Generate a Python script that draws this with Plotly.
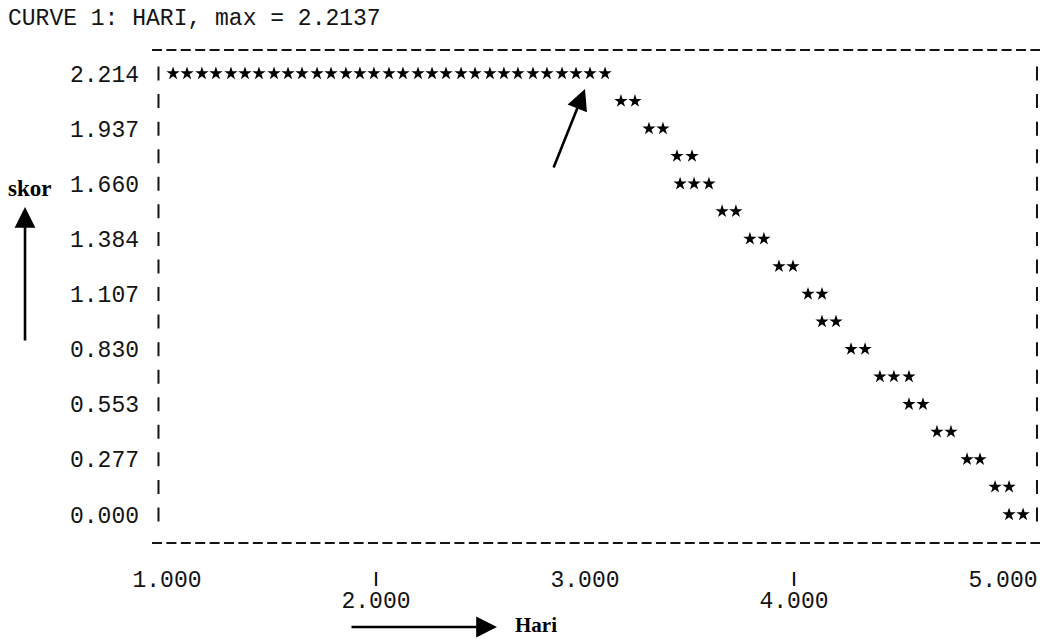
import plotly.graph_objects as go

# ---- data ----
skor_levels = [2.2137, 2.0754, 1.9370, 1.7987, 1.6603, 1.5219, 1.3836, 1.2452,
               1.1068, 0.9685, 0.8301, 0.6918, 0.5534, 0.4151, 0.2767, 0.1384, 0.0]

hari_per_level = [
    [1.029, 1.096, 1.167, 1.234, 1.306, 1.373, 1.440, 1.512, 1.579, 1.646,
     1.718, 1.785, 1.856, 1.923, 1.990, 2.062, 2.129, 2.201, 2.268, 2.335,
     2.407, 2.474, 2.545, 2.612, 2.679, 2.751, 2.818, 2.890, 2.957, 3.024, 3.096],
    [3.172, 3.239],
    [3.306, 3.373],
    [3.440, 3.512],
    [3.455, 3.522, 3.593],
    [3.656, 3.722],
    [3.789, 3.856],
    [3.928, 3.995],
    [4.067, 4.134],
    [4.134, 4.201],
    [4.273, 4.340],
    [4.411, 4.478, 4.550],
    [4.550, 4.617],
    [4.684, 4.751],
    [4.828, 4.890],
    [4.962, 5.029],
    [5.029, 5.096],
]

y_tickvals = [2.2137, 1.9370, 1.6603, 1.3836, 1.1068, 0.8301, 0.5534, 0.2767, 0.0]
y_ticktext = ["2.214", "1.937", "1.660", "1.384", "1.107", "0.830", "0.553", "0.277", "0.000"]

x_row1_vals = [1, 3, 5]
x_row1_text = ["1.000", "3.000", "5.000"]
x_row2_vals = [2, 4]
x_row2_text = ["2.000", "4.000"]
x_mark_vals = [2, 4]
x_mark_text = ["<b>|</b>", "<b>|</b>"]

title_text = "CURVE 1: HARI, max = 2.2137"

hari = []
skor = []
for lvl, xs in zip(skor_levels, hari_per_level):
    for xv in xs:
        hari.append(xv)
        skor.append(lvl)

MONO = "Liberation Mono, Courier New, monospace"
SERIF = "Liberation Serif, Times New Roman, serif"
INK = "#141414"

XR = [0.9282, 5.1770]
YR = [-0.1431, 2.3317]

fig = go.Figure()
fig.add_trace(go.Scatter(
    x=hari, y=skor, mode="markers",
    marker=dict(symbol="star", size=10, color="black", line=dict(width=0)),
    showlegend=False, hoverinfo="skip"))
# invisible traces so the overlay axes are drawn
fig.add_trace(go.Scatter(x=x_row2_vals, y=[skor_levels[0]] * 2, xaxis="x2", mode="markers",
                         marker=dict(opacity=0), showlegend=False, hoverinfo="skip"))
fig.add_trace(go.Scatter(x=x_mark_vals, y=[skor_levels[0]] * 2, xaxis="x3", mode="markers",
                         marker=dict(opacity=0), showlegend=False, hoverinfo="skip"))

axis_common = dict(showgrid=False, zeroline=False, showline=False, ticks="")

fig.update_layout(
    width=1052, height=639,
    margin=dict(l=152, r=12, t=50, b=96),
    paper_bgcolor="white", plot_bgcolor="white",
    xaxis=dict(range=XR, tickvals=x_row1_vals, ticktext=x_row1_text,
               tickfont=dict(family=MONO, size=23, color=INK),
               ticklabelstandoff=20, **axis_common),
    xaxis2=dict(range=XR, overlaying="x", anchor="y", side="bottom",
                tickvals=x_row2_vals, ticktext=x_row2_text,
                tickfont=dict(family=MONO, size=23, color=INK),
                ticklabelstandoff=41, **axis_common),
    xaxis3=dict(range=XR, overlaying="x", anchor="y", side="bottom",
                tickvals=x_mark_vals, ticktext=x_mark_text,
                tickfont=dict(family=MONO, size=15, color="black"),
                ticklabelstandoff=24, **axis_common),
    yaxis=dict(range=YR, tickvals=y_tickvals, ticktext=y_ticktext,
               tickfont=dict(family=MONO, size=23, color=INK),
               ticklabelstandoff=12, **axis_common),
    title=dict(text=title_text, x=8 / 1052, xanchor="left", y=1 - 17 / 639, yanchor="middle",
               font=dict(family=MONO, size=23, color=INK)),
)

# frame: dashed top/bottom rows, '|' columns left/right
dash_h = dict(color=INK, width=2, dash="10px,4.4px")
fig.add_shape(type="line", xref="paper", yref="paper", x0=0, x1=1, y0=1, y1=1, line=dash_h)
fig.add_shape(type="line", xref="paper", yref="paper", x0=0, x1=1, y0=0, y1=0, line=dash_h)
dash_v = dict(color=INK, width=2, dash="14px,13.56px")
for xp in (0.0073, 0.9966):
    fig.add_shape(type="line", xref="paper", yref="y", x0=xp, x1=xp,
                  y0=skor_levels[0] + 0.035, y1=-0.035, line=dash_v)

# axis names with arrows
fig.add_annotation(xref="paper", yref="paper", x=-0.1374, y=0.720, text="<b>skor</b>",
                   xanchor="center", yanchor="middle",
                   showarrow=False, font=dict(family=SERIF, size=23, color="black"))
fig.add_annotation(xref="paper", yref="paper", x=-0.1430, y=0.6815, text="",
                   showarrow=True, ax=0, ay=135, arrowhead=2, arrowsize=1.6,
                   arrowwidth=2.6, arrowcolor="black")
fig.add_annotation(xref="paper", yref="paper", x=0.4324, y=(543 - 625) / 493, text="<b>Hari</b>",
                   xanchor="center", yanchor="middle",
                   showarrow=False, font=dict(family=SERIF, size=21, color="black"))
fig.add_annotation(xref="paper", yref="paper", x=0.3885, y=(543 - 627) / 493, text="",
                   showarrow=True, ax=-147, ay=0, arrowhead=2, arrowsize=1.6,
                   arrowwidth=2.6, arrowcolor="black")
# arrow pointing at the break of the curve
fig.add_annotation(xref="x", yref="y", x=3.0, y=2.136, text="",
                   showarrow=True, ax=-32, ay=80, arrowhead=2, arrowsize=1.6,
                   arrowwidth=2.6, arrowcolor="black")

fig.write_html("out.html")
